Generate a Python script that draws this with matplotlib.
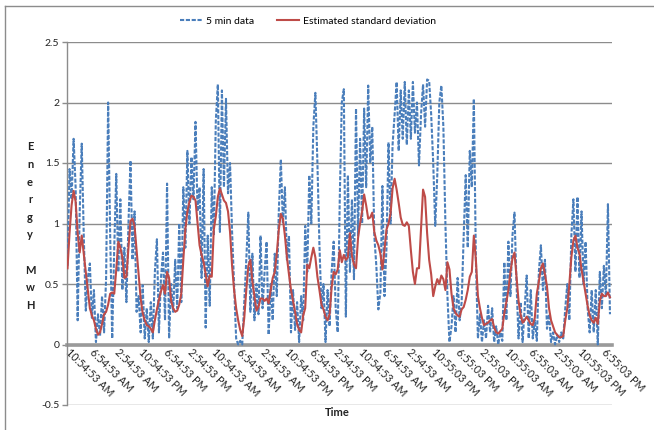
import matplotlib
matplotlib.use("Agg")
import matplotlib.pyplot as plt
from matplotlib.lines import Line2D
import numpy as np

plt.rcParams['font.family'] = ['Lato', 'DejaVu Sans']

# 5-minute energy readings (MWh)
five_min = [
    0.65, 1.45, 1.2, 1.7, 1.3, 0.2, 1.1, 1.66, 0.9, 0.28,
    0.55, 0.67, 0.22, 0.45, 0.02, 0.25, 0.07, 0.4, 0.1, 0.55,
    2.0, 0.9, 0.05, 0.8, 1.41, 0.6, 1.2, 0.45, 0.8, 0.35,
    1.0, 1.52, 0.7, 1.1, 0.27, 0.4, 0.1, 0.49, 0.05, 0.3,
    0.02, 0.35, 0.05, 0.6, 0.87, 0.1, 0.55, 0.76, 0.2, 1.33,
    0.05, 0.5, 0.27, 0.7, 0.3, 1.0, 0.35, 1.3, 0.8, 1.6,
    1.0, 1.55, 1.2, 1.84, 1.1, 1.3, 0.55, 1.45, 0.14, 0.9,
    0.32, 1.3, 0.9, 1.85, 2.15, 0.93, 2.1, 1.3, 2.03, 1.25,
    1.5, 0.93, 0.5, 0.05, 0.0, 0.03, 0.0, 0.35, 0.7, 1.09,
    0.27, 0.75, 0.2, 0.5, 0.25, 0.9, 0.3, 0.6, 0.85, 0.08,
    0.5, 0.2, 0.75, 0.4, 1.1, 1.53, 1.0, 1.3, 0.7, 0.9,
    0.1, 0.45, 0.12, 0.35, 0.02, 0.4, 0.2, 0.98, 0.6, 1.4,
    1.0, 1.8, 2.08, 1.5, 0.82, 0.3, 0.5, 0.02, 0.45, 0.15,
    0.6, 0.85, 0.3, 0.1, 1.2, 2.0, 2.11, 0.23, 1.4, 0.6,
    1.2, 0.54, 1.95, 0.9, 1.7, 1.0, 1.95, 1.3, 2.14, 1.5,
    1.8, 0.9, 0.65, 0.29, 0.43, 1.31, 0.4, 0.8, 1.67, 1.0,
    1.65, 1.9, 2.17, 1.6, 2.1, 1.7, 2.17, 1.65, 2.1, 1.7,
    2.17, 1.75, 2.0, 1.48, 1.9, 2.15, 1.8, 2.19, 2.18, 1.9,
    1.5, 0.98, 1.4, 2.0, 2.14, 1.8, 1.0, 0.4, 0.02, 0.15,
    0.4, 0.1, 0.55, 0.2, 0.35, 0.9, 1.4, 0.8, 1.6, 1.3,
    2.03, 0.7, 0.05, 0.25, 0.02, 0.2, 0.05, 0.32, 0.1, 0.3,
    0.02, 0.15, 0.0, 0.1, 0.03, 0.68, 0.2, 0.85, 0.4, 0.9,
    1.09, 0.5, 0.05, 0.35, 0.02, 0.3, 0.57, 0.05, 0.45, 0.05,
    0.2, 0.03, 0.6, 0.82, 0.45, 0.7, 0.13, 0.25, 0.02, 0.1,
    0.0, 0.08, 0.02, 0.1, 0.05, 0.3, 0.5, 0.2, 0.9, 1.2,
    0.6, 1.22, 0.55, 1.1, 0.5, 0.85, 0.3, 0.1, 0.45, 0.1,
    0.45, 0.0, 0.6, 0.3, 0.65, 0.4, 1.16, 0.25,
]

# Estimated standard deviation (MWh)
est_std = [
    0.63, 0.92, 1.15, 1.27, 1.18, 0.92, 0.76, 0.9, 0.75, 0.6,
    0.45, 0.3, 0.24, 0.2, 0.13, 0.08, 0.1, 0.17, 0.25, 0.27,
    0.33, 0.42, 0.43, 0.42, 0.62, 0.85, 0.8, 0.72, 0.55, 0.56,
    0.8, 1.02, 1.04, 0.98, 0.78, 0.58, 0.38, 0.26, 0.2, 0.16,
    0.15, 0.13, 0.1, 0.2, 0.29, 0.37, 0.44, 0.49, 0.42, 0.6,
    0.55, 0.36, 0.3, 0.27, 0.28, 0.33, 0.42, 0.7, 0.95, 1.1,
    1.18, 1.23, 1.22, 1.19, 1.0, 0.82, 0.74, 0.68, 0.58, 0.48,
    0.57, 0.56, 0.95, 1.06, 1.22, 1.29, 1.24, 1.19, 1.17, 1.1,
    0.93, 0.65, 0.45, 0.3, 0.2, 0.12, 0.07, 0.22, 0.45, 0.65,
    0.7, 0.52, 0.4, 0.28, 0.31, 0.38, 0.38, 0.36, 0.38, 0.34,
    0.45, 0.55, 0.6, 0.75, 0.95, 1.08, 1.04, 0.9, 0.72, 0.58,
    0.45, 0.36, 0.27, 0.17, 0.12, 0.1, 0.24, 0.3, 0.66, 0.63,
    0.72, 0.8, 0.72, 0.56, 0.45, 0.33, 0.29, 0.23, 0.2, 0.25,
    0.47, 0.6, 0.58, 0.62, 0.78, 0.68, 0.74, 0.7, 0.72, 0.92,
    0.73, 0.66, 0.63, 0.88, 1.0, 1.1, 1.24, 1.15, 1.04, 1.05,
    1.09, 0.93, 0.86, 0.82, 0.75, 0.62, 0.78, 0.95, 1.0, 1.08,
    1.29, 1.37, 1.28, 1.17, 1.05, 0.99, 0.98, 1.01, 0.98, 0.78,
    0.6, 0.5, 0.63, 0.63, 0.95, 1.28, 1.22, 0.92, 0.7, 0.58,
    0.4, 0.48, 0.54, 0.5, 0.57, 0.54, 0.45, 0.68, 0.62, 0.42,
    0.3, 0.26, 0.24, 0.23, 0.29, 0.31, 0.37, 0.45, 0.56, 0.6,
    0.9, 0.7, 0.4, 0.3, 0.22, 0.16, 0.17, 0.18, 0.2, 0.21,
    0.14, 0.1, 0.09, 0.11, 0.13, 0.26, 0.35, 0.45, 0.6, 0.71,
    0.76, 0.56, 0.36, 0.25, 0.18, 0.2, 0.23, 0.2, 0.17, 0.16,
    0.22, 0.42, 0.52, 0.63, 0.67, 0.58, 0.48, 0.3, 0.2, 0.15,
    0.1, 0.08, 0.06, 0.06, 0.07, 0.2, 0.3, 0.5, 0.72, 0.86,
    0.9, 0.8, 0.75, 0.62, 0.52, 0.42, 0.32, 0.24, 0.2, 0.18,
    0.22, 0.17, 0.36, 0.42, 0.4, 0.4, 0.43, 0.39,
]

time_labels = [
    "10:54:53 AM", "6:54:53 AM", "2:54:53 AM", "10:54:53 PM", "6:54:53 PM",
    "2:54:53 PM", "10:54:53 AM", "6:54:53 AM", "2:54:53 AM", "10:54:53 PM",
    "6:54:53 PM", "2:54:53 PM", "10:54:53 AM", "6:54:53 AM", "2:54:53 AM",
    "10:55:03 PM", "6:55:03 PM", "2:55:03 PM", "10:55:03 AM", "6:55:03 AM",
    "2:55:03 AM", "10:55:03 PM", "6:55:03 PM",
]
y_ticks = [-0.5, 0, 0.5, 1, 1.5, 2, 2.5]

BLUE = "#4a7ebb"
RED = "#be4b48"
GRID = "#8c8c8c"
FRAME = "#8c8c8c"
LABEL_STEP = 12  # samples between category labels

W, H = 654, 430
fig = plt.figure(figsize=(W / 100, H / 100), dpi=100)
ax = fig.add_axes([67 / W, 1 - 405 / H, (612 - 67) / W, (405 - 42) / H])

x = np.arange(len(five_min))
ax.plot(x, five_min, color=BLUE, lw=1.5, dashes=(2.0, 0.8), zorder=3)
ax.plot(x, est_std, color=RED, lw=1.5, zorder=4)

ax.set_xlim(-0.25, len(five_min))
ax.set_ylim(-0.5, 2.5)
ax.set_yticks(y_ticks)
ax.set_yticklabels([f"{v:g}" for v in y_ticks])
ax.yaxis.grid(True, color=GRID, lw=1.0)
ax.set_axisbelow(True)

for side in ("top", "right"):
    ax.spines[side].set_visible(False)
ax.spines["left"].set_color(GRID)
ax.spines["left"].set_linewidth(1.0)
ax.spines["bottom"].set_position(("data", 0))
ax.spines["bottom"].set_color("#9a9a9a")
ax.spines["bottom"].set_linewidth(2.6)
ax.spines["bottom"].set_zorder(2)

ax.tick_params(axis="y", length=3.5, width=1.0, color=GRID, labelsize=7.5,
               labelcolor="#222222", pad=2)
ax.set_xticks(np.arange(len(time_labels)) * LABEL_STEP)
ax.set_xticklabels(time_labels)
ax.tick_params(axis="x", length=0, labelsize=7.7, labelcolor="#222222", pad=4)
for lbl in ax.get_xticklabels():
    lbl.set_rotation(-45)
    lbl.set_ha("left")
    lbl.set_va("center")
    lbl.set_rotation_mode("anchor")

# stacked y-axis title
letters = ["E", "n", "e", "r", "g", "y", "", "M", "w", "H"]
for k, ch in enumerate(letters):
    if ch:
        fig.text(30 / W, 1 - (147 + k * 17.6) / H, ch, ha="center", va="center",
                 fontsize=8, fontweight="bold", color="#222222")

fig.text(337 / W, 1 - 413 / H, "Time", ha="center", va="center",
         fontsize=8, fontweight="bold", color="#222222")

# outer chart frame
fig.add_artist(Line2D([5 / W, 1], [1 - 6 / H, 1 - 6 / H], transform=fig.transFigure,
                      color=FRAME, lw=1.0))
fig.add_artist(Line2D([5 / W, 5 / W], [0, 1 - 6 / H], transform=fig.transFigure,
                      color=FRAME, lw=1.0))

handles = [
    Line2D([], [], color=BLUE, lw=1.5, dashes=(2.0, 0.8)),
    Line2D([], [], color=RED, lw=1.5),
]
fig.legend(handles, ["5 min data", "Estimated standard deviation"],
           loc="center left", bbox_to_anchor=(180 / W, 1 - 21 / H), ncol=2,
           frameon=False, fontsize=7.5, handlelength=2.1, handletextpad=0.4,
           columnspacing=2.2, borderpad=0, borderaxespad=0)

fig.savefig("out.png", dpi=100, facecolor="white")
